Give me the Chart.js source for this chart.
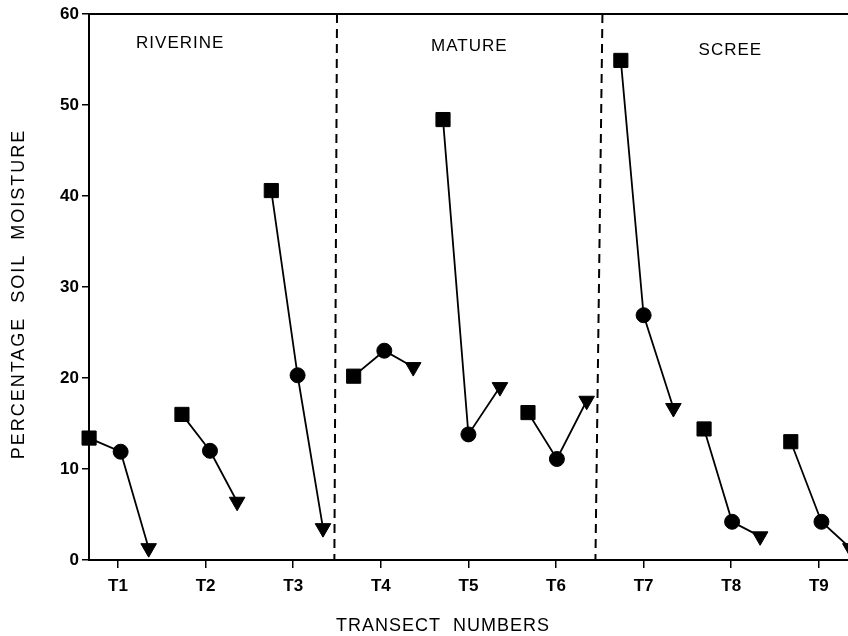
<!DOCTYPE html>
<html lang="en">
<head>
  <meta charset="UTF-8" />
  <title>Percentage soil moisture by transect</title>
  <script src="https://cdn.jsdelivr.net/npm/chart.js"></script>
  <style>
    html, body { margin: 0; padding: 0; background: #fff; }
    .chart-wrapper { width: 848px; height: 636px; }
  </style>
</head>
<body>
<div class="chart-wrapper">
  <canvas id="moistureChart"></canvas>
</div>

<script>
  // transects and the three samples read along each one
  const transects = ['T1', 'T2', 'T3', 'T4', 'T5', 'T6', 'T7', 'T8', 'T9'];
  const squareX   = [0.67, 1.73, 2.75, 3.69, 4.71, 5.68, 6.74, 7.69, 8.68];
  const squareY   = [13.4, 16.0, 40.6, 20.2, 48.4, 16.2, 54.9, 14.4, 13.0];
  const circleX   = [1.03, 2.05, 3.05, 4.04, 5.00, 6.01, 7.00, 8.01, 9.03];
  const circleY   = [11.9, 12.0, 20.3, 23.0, 13.8, 11.1, 26.9, 4.2, 4.2];
  const triangleX = [1.35, 2.36, 3.34, 4.37, 5.36, 6.35, 7.34, 8.33, 9.36];
  const triangleY = [1.3, 6.4, 3.5, 21.2, 19.0, 17.5, 16.7, 2.6, 1.3];

  const yTicks = [0, 10, 20, 30, 40, 50, 60];

  // habitat zones, separated by dashed lines
  const zoneNames = ['RIVERINE', 'MATURE', 'SCREE'];
  const zoneLabelX = [1.71, 5.01, 7.99];
  const zoneLabelY = [56.8, 56.5, 56.0];
  const dividerTopX = [3.50, 6.53];
  const dividerBottomX = [3.47, 6.45];

  const datasets = transects.map((t, i) => ({
    label: t,
    data: [
      { x: squareX[i], y: squareY[i] },
      { x: circleX[i], y: circleY[i] },
      { x: triangleX[i], y: triangleY[i] }
    ],
    borderColor: '#000',
    backgroundColor: '#000',
    borderWidth: 1.8,
    pointStyle: ['rect', 'circle', 'triangle'],
    rotation: [0, 0, 180],
    pointRadius: [10, 7.5, 9],
    pointBorderWidth: 1,
    clip: false
  }));

  const decor = {
    id: 'decor',
    beforeDatasetsDraw(chart) {
      const { ctx, chartArea, scales: { x, y } } = chart;
      ctx.save();
      // top frame line
      ctx.strokeStyle = '#000';
      ctx.lineWidth = 2;
      ctx.beginPath();
      ctx.moveTo(chartArea.left, chartArea.top);
      ctx.lineTo(chartArea.right, chartArea.top);
      ctx.stroke();
      // zone dividers
      ctx.setLineDash([9, 6]);
      ctx.lineWidth = 2;
      for (let i = 0; i < dividerTopX.length; i++) {
        ctx.beginPath();
        ctx.moveTo(x.getPixelForValue(dividerTopX[i]), chartArea.top);
        ctx.lineTo(x.getPixelForValue(dividerBottomX[i]), chartArea.bottom);
        ctx.stroke();
      }
      ctx.setLineDash([]);
      // zone names
      ctx.fillStyle = '#000';
      ctx.font = '17px "Liberation Sans", Arial, sans-serif';
      ctx.letterSpacing = '1px';
      ctx.textAlign = 'center';
      ctx.textBaseline = 'middle';
      for (let i = 0; i < zoneNames.length; i++) {
        ctx.fillText(zoneNames[i], x.getPixelForValue(zoneLabelX[i]), y.getPixelForValue(zoneLabelY[i]));
      }
      // axis titles
      ctx.font = '18px "Liberation Sans", Arial, sans-serif';
      ctx.letterSpacing = '1px';
      ctx.fillText('TRANSECT  NUMBERS', 443, 626);
      ctx.translate(19, 294);
      ctx.rotate(-Math.PI / 2);
      ctx.letterSpacing = '2px';
      ctx.fillText('PERCENTAGE  SOIL  MOISTURE', 0, 0);
      ctx.restore();
    }
  };

  const tickFont = { family: '"Liberation Sans", Arial, sans-serif', size: 17, weight: 'bold' };

  new Chart(document.getElementById('moistureChart'), {
    type: 'line',
    data: { datasets },
    options: {
      responsive: true,
      maintainAspectRatio: false,
      animation: false,
      layout: { autoPadding: false, padding: { top: 14, left: 0, right: 0, bottom: 0 } },
      plugins: {
        legend: { display: false },
        tooltip: { enabled: false }
      },
      scales: {
        x: {
          type: 'linear',
          min: 0.669,
          max: 9.333,
          afterBuildTicks: (scale) => {
            scale.ticks = transects.map((t, i) => ({ value: i + 1 }));
          },
          afterFit: (scale) => { scale.height = 76; },
          ticks: {
            color: '#000',
            font: tickFont,
            padding: 8,
            maxRotation: 0,
            callback: (v) => transects[v - 1]
          },
          grid: { drawOnChartArea: false, tickLength: 8, color: '#000', lineWidth: 1.5 },
          border: { display: true, color: '#000', width: 2 }
        },
        y: {
          min: 0,
          max: 60,
          afterBuildTicks: (scale) => {
            scale.ticks = yTicks.map(v => ({ value: v }));
          },
          afterFit: (scale) => { scale.width = 89; },
          ticks: { color: '#000', font: tickFont, padding: 3 },
          grid: { drawOnChartArea: false, tickLength: 7, color: '#000', lineWidth: 1.5 },
          border: { display: true, color: '#000', width: 2 }
        }
      }
    },
    plugins: [decor]
  });
</script>
</body>
</html>
